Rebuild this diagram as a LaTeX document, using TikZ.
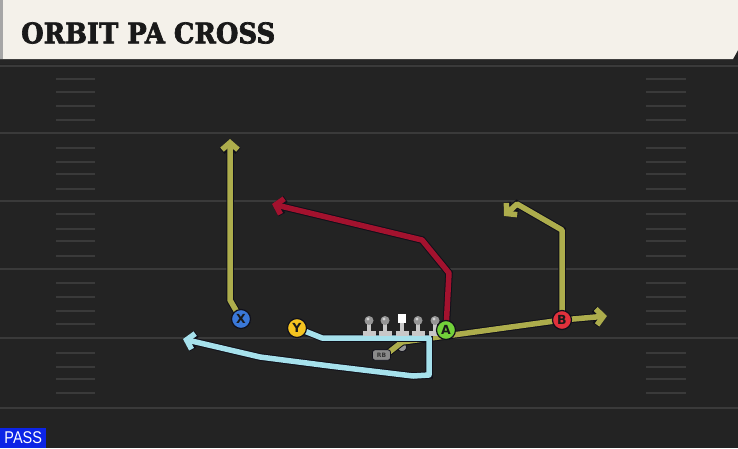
\documentclass[tikz,border=0pt]{standalone}
\usepackage{fontspec}
\usepackage{graphicx}
\usetikzlibrary{arrows.meta}
\setmainfont{Liberation Sans}
\newfontfamily\titlefont{DejaVu Serif}[FakeBold=2.5]
\newfontfamily\labfont{DejaVu Sans}
\definecolor{bgc}{HTML}{232323}
\definecolor{yardc}{HTML}{3A3A3A}
\definecolor{hashc}{HTML}{3A3A3A}
\definecolor{creamc}{HTML}{F4F1EA}
\definecolor{olivec}{HTML}{ADAD4C}
\definecolor{redroute}{HTML}{A3122E}
\definecolor{cyanc}{HTML}{A6E1EC}
\definecolor{outc}{HTML}{10101A}
\definecolor{xblue}{HTML}{3A78D8}
\definecolor{yyel}{HTML}{F5C420}
\definecolor{agreen}{HTML}{72D13A}
\definecolor{bred}{HTML}{E0313C}
\definecolor{passc}{HTML}{0C24E6}
\definecolor{linec}{HTML}{C8C8C8}
\definecolor{headc}{HTML}{959595}
\tikzset{
  yard/.style={draw=yardc, line width=2.5pt},
  hashm/.style={draw=hashc, line width=2pt},
  route/.style={line width=5.5pt, line join=round,
    preaction={draw=outc, line width=7.5pt}},
  tip/.style={-{Straight Barb[length=7pt,width=16pt]}},
  player/.style={circle, minimum size=19pt, inner sep=0pt, draw=outc, line width=1.2pt,
    font=\labfont\bfseries\fontsize{12.5}{12.5}\selectfont, text=black!90},
}
\begin{document}
\begin{tikzpicture}[x=1pt,y=-1pt]
\useasboundingbox (0,0) rectangle (738,448);
\fill[bgc] (0,0) rectangle (738,448);
% yard lines
\foreach \yy in {66,133,201,269,338,408} \draw[yard] (0,\yy) -- (738,\yy);
% hash marks
\foreach \yy in {79,92,106,120,148,162,174,189,214,229,241,256,283,297,311,324,353,367,379,393} {
  \draw[hashm] (56,\yy) -- (95,\yy);
  \draw[hashm] (646,\yy) -- (686,\yy);
}
% title bar
\fill[black!85] (0,59) rectangle (738,64);
\fill[creamc] (0,0) -- (738,0) -- (738,50) -- (733,59) -- (0,59) -- cycle;
\fill[black!35] (0,0) rectangle (3,59);
\node[anchor=west, inner sep=0pt, text=black!90] (title) at (21,33)
  {\resizebox{254pt}{21pt}{\titlefont\bfseries ORBIT PA CROSS}};
% PASS tag
\node[anchor=south west, fill=passc, text=white, inner sep=0pt, minimum width=46pt, minimum height=20pt,
  font=\fontsize{17}{17}\selectfont] (pass) at (0,448) {\scalebox{0.85}[1]{PASS}};
% players (positions)
\coordinate (Xp) at (241,319);
\coordinate (Yp) at (297,328);
\coordinate (Ap) at (446,330);
\coordinate (Bp) at (562,320);
% RB ball
\fill[headc, draw=outc, line width=0.8pt] (402,347) circle (4.8);
% routes
\coordinate (rb1) at (402,342);
\coordinate (rbs) at (388,353);
\coordinate (bend) at (607,316);
\draw[route, olivec, tip] (rbs) -- (rb1) -- (Bp) -- (bend);
\coordinate (x1) at (230,300);
\coordinate (x2) at (230,139);
\draw[route, olivec, tip] (Xp) -- (x1) -- (x2);
\coordinate (a1) at (449,273);
\coordinate (a2) at (422,240);
\coordinate (a3) at (272,204);
\draw[route, redroute, tip] (Ap) -- (a1) -- (a2) -- (a3);
\coordinate (b1) at (562,230);
\coordinate (b2) at (517,204);
\coordinate (b3) at (504,216);
\draw[route, olivec, tip] (Bp) -- (b1) -- (b2) -- (b3);
\coordinate (y1) at (322,338);
\coordinate (y2) at (429,338);
\coordinate (y3) at (429,375);
\coordinate (y4) at (413,376);
\coordinate (y5) at (330,366);
\coordinate (y6) at (260,357);
\coordinate (y7) at (183,339);
\draw[route, cyanc, tip] (Yp) -- (y1) -- (y2) -- (y3) -- (y4) -- (y5) -- (y6) -- (y7);
% linemen
\foreach \lx/\nm in {369/lt,385/lg,418/rg,435/rt} {
  \fill[linec] (\lx-6.5,330.5) rectangle (\lx+6.5,336);
  \fill[linec] (\lx-2.2,322) rectangle (\lx+2.2,331);
  \fill[headc] (\lx,320.5) circle (4.5);
  \fill[linec!80!white] (\lx-1,319) circle (1.7);
}
\fill[linec] (395.5,330.5) rectangle (408.5,336);
\fill[linec] (399.8,322) rectangle (404.2,331);
\node[fill=white, minimum size=8.5pt, inner sep=0pt] (ctr) at (402,318.5) {};
% RB
\node[fill=headc!110, draw=outc, line width=0.8pt, rounded corners=2.5pt, minimum width=18pt, minimum height=10.5pt,
  inner sep=0pt, font=\labfont\bfseries\fontsize{6}{6}\selectfont, text=black!80] (RB) at (381.5,355) {RB};
% player circles
\node[player, fill=xblue] (X) at (Xp) {X};
\node[player, fill=yyel] (Y) at (Yp) {Y};
\node[player, fill=agreen] (A) at (Ap) {A};
\node[player, fill=bred] (B) at (Bp) {B};
\end{tikzpicture}
\end{document}
